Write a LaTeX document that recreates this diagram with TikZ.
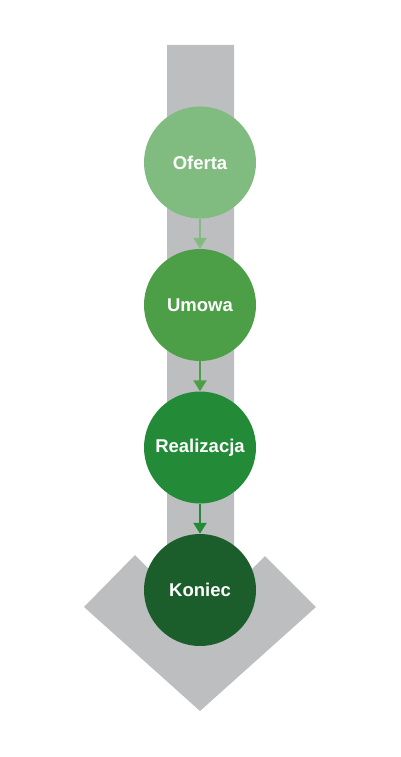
\documentclass[tikz,border=0pt]{standalone}
\usepackage{fontspec}
\setmainfont{Liberation Sans}
\usetikzlibrary{arrows.meta}
\definecolor{cgray}{HTML}{BDBEC0}
\definecolor{cA}{HTML}{80BC7F}
\definecolor{cB}{HTML}{4C9E47}
\definecolor{cC}{HTML}{238B37}
\definecolor{cD}{HTML}{1C5E2B}
\tikzset{
  stage/.style={circle, minimum size=112pt, inner sep=0pt, text=white,
    font=\fontsize{18.5}{21}\selectfont\bfseries},
  flow/.style={line width=2.4pt, -{Triangle[length=11pt,width=13pt]}}
}
\begin{document}
\begin{tikzpicture}[x=1pt,y=-1pt]
\useasboundingbox (0,0) rectangle (400,757);
\fill[cgray] (167,45) -- (234,45) -- (234,587) -- (265,556) -- (316,607)
  -- (200,711) -- (84,607) -- (135,555) -- (167,587) -- cycle;
\node[stage, fill=cA] (a) at (200,162.5) {Oferta};
\node[stage, fill=cB] (b) at (200,305) {Umowa};
\node[stage, fill=cC] (c) at (200,447.5) {Realizacja};
\node[stage, fill=cD] (d) at (200,590) {Koniec};
\draw[flow, cA] (a) -- (b);
\draw[flow, cB] (b) -- (c);
\draw[flow, cC] (c) -- (d);
\end{tikzpicture}
\end{document}
